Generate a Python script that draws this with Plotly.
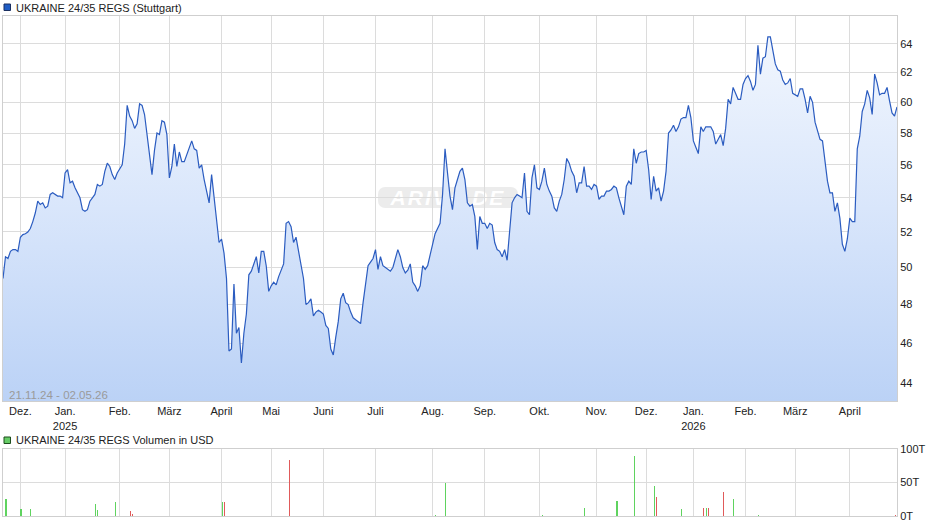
import base64
import math
import pandas as pd
import plotly.graph_objects as go

# ---------------- data ----------------
holidays = ["2024-12-24", "2024-12-25", "2024-12-26", "2024-12-31", "2025-01-01",
            "2025-04-18", "2025-04-21", "2025-05-01", "2025-12-24", "2025-12-25",
            "2025-12-26", "2025-12-31", "2026-01-01", "2026-04-03", "2026-04-06"]

first_day = "2024-11-21"
last_day = "2026-04-30"

# daily closing prices, one per trading day
close = [
    # Nov 2024
    49.4, 50.6, 50.5, 50.9, 51.0, 51.0, 50.9,
    # Dec 2024
    51.7, 51.85, 51.9, 52.0, 52.2, 52.6, 53.1, 53.8, 53.6, 53.7, 53.4, 53.5, 54.2, 54.3, 54.2, 54.1, 54.1, 54.0,
    # Jan 2025
    55.5, 55.7, 54.9, 55.0, 54.6, 54.3, 54.0, 53.3, 53.2, 53.3, 53.8, 54.0, 54.2, 54.8, 54.7, 54.8, 55.6, 56.1,
    55.9, 55.4, 55.1, 55.5,
    # Feb 2025
    55.8, 56.0, 57.3, 59.8, 59.1, 58.8, 58.3, 58.6, 59.9, 59.8, 59.2, 57.9, 57.0, 55.4, 56.9, 58.0, 57.9, 58.8,
    58.7, 57.9,
    # Mar 2025
    55.2, 55.9, 57.3, 55.9, 56.8, 56.2, 56.2, 56.6, 57.1, 57.5, 57.0, 56.9, 55.8, 56.0, 55.1, 54.3, 53.7, 55.4,
    54.0, 52.9, 51.4,
    # Apr 2025
    51.6, 50.8, 49.4, 45.6, 45.7, 49.1, 46.5, 46.8, 45.0, 46.5, 47.5, 49.6, 49.8, 50.2, 50.6, 49.7, 50.9, 50.9,
    50.1, 48.7,
    # May 2025
    49.0, 49.2, 49.05, 49.5, 49.8, 50.2, 52.5, 52.6, 52.3, 51.4, 51.7, 50.9, 50.2, 49.4, 48.0, 48.1, 48.3, 47.4,
    47.6, 47.7, 47.6,
    # Jun 2025
    47.5, 46.9, 46.75, 45.7, 45.4, 46.3, 47.1, 48.3, 48.6, 48.1, 48.0, 47.6, 47.3, 47.2, 47.1, 47.0, 48.1, 49.1,
    50.1, 50.3, 50.5,
    # Jul 2025
    51.0, 49.9, 50.6, 50.1, 50.0, 49.9, 49.8, 50.0, 50.5, 51.0, 50.6, 50.0, 49.7, 49.85, 50.2, 49.2, 49.0, 48.7,
    49.0, 50.1, 49.9, 50.1, 50.7,
    # Aug 2025
    51.3, 51.9, 52.2, 52.5, 54.2, 57.0, 55.5, 54.1, 53.3, 54.6, 55.1, 55.6, 55.8, 55.1, 53.7, 53.5, 53.6, 52.9,
    51.0, 52.9, 52.5,
    # Sep 2025
    52.5, 52.2, 52.5, 52.4, 51.4, 51.0, 50.9, 50.6, 51.0, 50.4, 51.9, 53.7, 54.0, 54.2, 54.1, 54.0, 55.5, 53.2,
    53.0, 55.2, 56.0, 54.6,
    # Oct 2025
    54.5, 55.0, 55.8, 54.8, 54.4, 54.1, 53.4, 53.2, 53.8, 54.2, 55.1, 56.4, 56.1, 55.6, 55.3, 54.3, 54.9, 54.9,
    55.9, 54.7, 54.7, 54.5, 54.8,
    # Nov 2025
    54.7, 53.9, 54.1, 54.1, 54.4, 54.4, 54.5, 54.7, 54.6, 54.0, 53.5, 53.0, 54.7, 55.0, 54.8, 57.0, 56.1, 56.7,
    56.8, 56.8,
    # Dec 2025
    56.9, 55.7, 53.9, 55.3, 54.4, 54.6, 53.8, 54.4, 55.6, 58.0, 58.2, 58.5, 58.1, 58.4, 58.9, 59.0, 59.0, 59.8,
    59.0,
    # Jan 2026
    57.5, 57.1, 56.7, 58.4, 58.1, 58.4, 58.4, 58.4, 58.1, 57.3, 57.6, 57.9, 57.2, 58.3, 60.2, 59.9, 61.0, 60.6,
    60.2, 60.2, 61.2,
    # Feb 2026
    61.6, 61.8, 61.4, 60.8, 61.2, 63.9, 61.9, 63.0, 63.1, 64.5, 64.5, 63.5, 62.6, 62.2, 62.1, 61.5, 61.2, 61.3,
    61.6, 60.6,
    # Mar 2026
    60.5, 60.4, 60.9, 60.9, 60.2, 59.3, 60.4, 60.0, 58.7, 58.1, 57.6, 57.5, 56.4, 55.0, 54.3, 54.3, 53.2, 53.7,
    52.8, 51.3, 50.9, 51.6,
    # Apr 2026
    52.8, 52.6, 52.6, 57.0, 57.8, 59.4, 59.9, 60.8, 60.3, 59.2, 61.9, 61.3, 60.5, 60.6, 60.6, 61.0, 60.1, 59.3,
    59.1, 59.7,
]

vol_dates = ["2024-11-22", "2024-12-02", "2024-12-06", "2025-01-20", "2025-01-21", "2025-01-30",
             "2025-02-07", "2025-02-10", "2025-04-01", "2025-04-02", "2025-05-13", "2025-08-04",
             "2025-08-08", "2025-10-02", "2025-10-27", "2025-11-13", "2025-11-24", "2025-12-04",
             "2025-12-05", "2025-12-19", "2026-01-08", "2026-01-09", "2026-01-12", "2026-01-20",
             "2026-01-26", "2026-02-09", "2026-04-29"]
vol_values = [25000, 10400, 10400, 17900, 9000, 21000,
              7500, 3000, 21000, 21000, 83600, 1000,
              50000, 1500, 11400, 22400, 89600, 44800,
              28400, 10400, 12400, 12400, 12400, 36300,
              25400, 1500, 2000]
vol_dir = ["up", "up", "up", "up", "up", "up",
           "down", "down", "up", "down", "down", "up",
           "up", "up", "up", "up", "up", "up",
           "down", "up", "down", "up", "down", "down",
           "up", "up", "down"]

price_ticks = [44, 46, 48, 50, 52, 54, 56, 58, 60, 62, 64]
vol_ticks = [0, 50000, 100000]
vol_tick_text = ["0T", "50T", "100T"]
month_names = ["Jan.", "Feb.", "März", "April", "Mai", "Juni", "Juli", "Aug.", "Sep.", "Okt.", "Nov.", "Dez."]

title_price = "UKRAINE 24/35 REGS (Stuttgart)"
title_volume = "UKRAINE 24/35 REGS Volumen in USD"
range_label = "21.11.24 - 02.05.26"

# ---------------- calendar ----------------
trade_days = [d for d in pd.bdate_range(first_day, last_day) if d.strftime("%Y-%m-%d") not in holidays]
dates = [d.strftime("%Y-%m-%d") for d in trade_days]
n = min(len(dates), len(close))
dates, close = dates[:n], close[:n]

tick_vals, tick_text = [], []
seen = set()
for i, d in enumerate(trade_days[:n]):
    key = (d.year, d.month)
    if key in seen:
        continue
    seen.add(key)
    if i == 0:
        continue
    lbl = month_names[d.month - 1]
    if d.month == 1:
        lbl += "<br>" + str(d.year)
    tick_vals.append(d.strftime("%Y-%m-%d"))
    tick_text.append(lbl)

# ---------------- styling ----------------
FONT = "Liberation Sans, Arial, sans-serif"
GRID = "#dcdcdc"
LINE = "#cfcfcf"
W, H = 940, 526
ML, MR, MT, MB = 3, 43, 16, 10
PW, PH = W - ML - MR, H - MT - MB
Y_LO, Y_HI = 43.15, 66.0


def px_x(x):
    return (x - ML) / PW


def px_y(y):
    return (H - MB - y) / PH


breaks = [dict(bounds=["sat", "mon"]), dict(values=holidays)]

fig = go.Figure()
fig.add_trace(go.Scatter(
    x=dates, y=close, mode="lines",
    line=dict(color="#2b5cc0", width=1.2),
    fill="tozeroy",
    fillgradient=dict(type="vertical", start=Y_LO, stop=Y_HI,
                      colorscale=[[0, "#bbd2f6"], [0.5, "#d9e6fb"], [1, "#f4f8fe"]]),
    hoverinfo="skip", xaxis="x", yaxis="y", showlegend=False,
))

vcolors = ["#5fd35f" if v == "up" else "#e05a5a" for v in vol_dir]
fig.add_trace(go.Bar(
    x=vol_dates, y=vol_values, marker=dict(color=vcolors, line=dict(width=0)),
    width=0.45 * 86400000, offset=0,
    hoverinfo="skip", xaxis="x2", yaxis="y2", showlegend=False,
))

axis_common = dict(showgrid=True, gridcolor=GRID, gridwidth=1, showline=True, linecolor=LINE,
                   linewidth=1, mirror=True, ticks="", zeroline=False, automargin=False,
                   tickfont=dict(family=FONT, size=11, color="#222"))

fig.update_layout(
    template="none",
    width=W, height=H,
    margin=dict(l=ML, r=MR, t=MT, b=MB),
    paper_bgcolor="white", plot_bgcolor="white",
    font=dict(family=FONT, size=11, color="#222"),
    showlegend=False,
    bargap=0,
    xaxis=dict(type="date", range=[first_day, last_day], rangebreaks=breaks, domain=[0, 1],
               anchor="y", tickvals=tick_vals, ticktext=tick_text, **axis_common),
    yaxis=dict(type="log", range=[math.log10(Y_LO), math.log10(Y_HI)], domain=[0.23, 1],
               side="right", anchor="x", tickvals=price_ticks,
               ticktext=[str(t) for t in price_ticks], **axis_common),
    xaxis2=dict(type="date", range=[first_day, last_day], rangebreaks=breaks, domain=[0, 1],
                anchor="y2", matches="x", tickvals=tick_vals, showticklabels=False, **axis_common),
    yaxis2=dict(range=[0, 100000], domain=[0, 0.134], side="right", anchor="x2",
                tickvals=vol_ticks, ticktext=vol_tick_text, **axis_common),
)

# legend squares and titles
fig.add_shape(type="rect", xref="paper", yref="paper",
              x0=px_x(4), x1=px_x(10.5), y0=px_y(10.5), y1=px_y(4),
              fillcolor="#1f5cc4", line=dict(color="#1a2f60", width=1))
fig.add_annotation(xref="paper", yref="paper", x=px_x(14), y=px_y(7.5), xanchor="left",
                   yanchor="middle", text=title_price, showarrow=False,
                   font=dict(family=FONT, size=11, color="#222"))
fig.add_shape(type="rect", xref="paper", yref="paper",
              x0=px_x(4), x1=px_x(10.5), y0=px_y(443.5), y1=px_y(437),
              fillcolor="#66cc66", line=dict(color="#1d4d1d", width=1))
fig.add_annotation(xref="paper", yref="paper", x=px_x(14), y=px_y(440), xanchor="left",
                   yanchor="middle", text=title_volume, showarrow=False,
                   font=dict(family=FONT, size=11, color="#222"))
fig.add_annotation(xref="paper", yref="paper", x=px_x(7), y=px_y(394.5), xanchor="left",
                   yanchor="middle", text=range_label, showarrow=False,
                   font=dict(family=FONT, size=11.5, color="#9a9a9a"))

# watermark
svg = ('<svg xmlns="http://www.w3.org/2000/svg" width="140" height="21" viewBox="0 0 140 21">'
       '<rect x="0" y="0" width="140" height="21" rx="7" ry="7" fill="#e6e6e6" fill-opacity="0.75"/>'
       '<text x="70" y="18" text-anchor="middle" font-family="Liberation Sans, Arial, sans-serif" '
       'font-size="21" font-weight="bold" font-style="italic" fill="#ffffff" letter-spacing="2">ARIVA.DE</text>'
       '</svg>')
src = "data:image/svg+xml;base64," + base64.b64encode(svg.encode()).decode()
fig.add_layout_image(dict(source=src, xref="paper", yref="paper", x=px_x(378), y=px_y(187),
                          sizex=140 / PW, sizey=21 / PH, xanchor="left", yanchor="top",
                          sizing="stretch", layer="below", opacity=1))

fig.write_html("out.html", config={"displayModeBar": False, "staticPlot": True},
               post_script="document.body.style.margin='0';document.body.style.padding='0';"
                           "document.body.style.overflow='hidden';")
